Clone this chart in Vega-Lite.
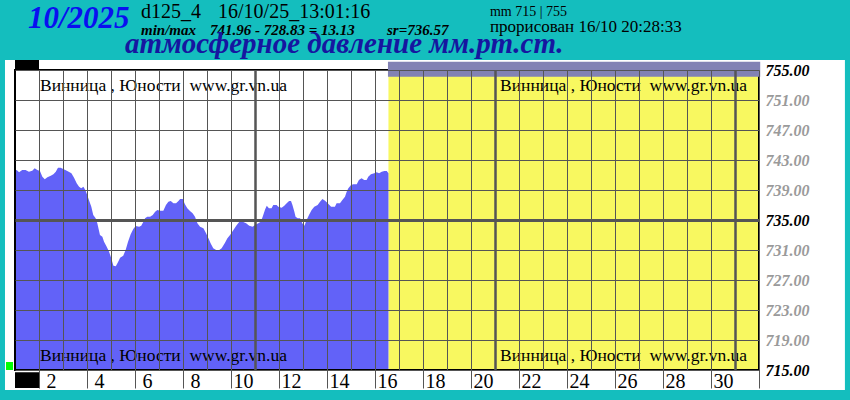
{
  "$schema": "https://vega.github.io/schema/vega-lite/v6.json",
  "width": 744,
  "height": 300,
  "autosize": {"type": "none"},
  "padding": {"left": 15, "top": 70, "right": 91, "bottom": 30},
  "background": "#14BEBE",
  "config": {"view": {"stroke": null}, "font": "Liberation Serif"},
  "datasets": {
    "p": [
      {"day": 1.00, "mmHg": 741.6}, {"day": 1.07, "mmHg": 741.67}, {"day": 1.17, "mmHg": 741.36}, {"day": 1.30, "mmHg": 741.67},
      {"day": 1.44, "mmHg": 741.67}, {"day": 1.58, "mmHg": 741.44}, {"day": 1.72, "mmHg": 741.58}, {"day": 1.82, "mmHg": 741.89},
      {"day": 1.93, "mmHg": 741.67}, {"day": 2.04, "mmHg": 741.53}, {"day": 2.14, "mmHg": 740.78}, {"day": 2.24, "mmHg": 740.42},
      {"day": 2.35, "mmHg": 740.69}, {"day": 2.49, "mmHg": 740.91}, {"day": 2.60, "mmHg": 741.09}, {"day": 2.70, "mmHg": 741.44},
      {"day": 2.79, "mmHg": 741.96}, {"day": 2.90, "mmHg": 741.96}, {"day": 3.01, "mmHg": 741.8}, {"day": 3.18, "mmHg": 741.53},
      {"day": 3.35, "mmHg": 741.22}, {"day": 3.46, "mmHg": 740.64}, {"day": 3.57, "mmHg": 739.89}, {"day": 3.67, "mmHg": 739.44},
      {"day": 3.76, "mmHg": 739.22}, {"day": 3.85, "mmHg": 739.44}, {"day": 3.93, "mmHg": 739.0}, {"day": 4.01, "mmHg": 738.33},
      {"day": 4.08, "mmHg": 737.67}, {"day": 4.18, "mmHg": 736.78}, {"day": 4.26, "mmHg": 735.67}, {"day": 4.36, "mmHg": 735.22},
      {"day": 4.43, "mmHg": 734.56}, {"day": 4.54, "mmHg": 733.0}, {"day": 4.64, "mmHg": 732.78}, {"day": 4.71, "mmHg": 732.11},
      {"day": 4.82, "mmHg": 731.44}, {"day": 4.92, "mmHg": 730.78}, {"day": 5.01, "mmHg": 729.89}, {"day": 5.10, "mmHg": 728.9},
      {"day": 5.20, "mmHg": 728.83}, {"day": 5.29, "mmHg": 729.36}, {"day": 5.38, "mmHg": 729.98}, {"day": 5.51, "mmHg": 730.24},
      {"day": 5.61, "mmHg": 731.0}, {"day": 5.71, "mmHg": 732.11}, {"day": 5.82, "mmHg": 733.09}, {"day": 5.93, "mmHg": 733.8},
      {"day": 6.03, "mmHg": 734.2}, {"day": 6.17, "mmHg": 734.11}, {"day": 6.26, "mmHg": 734.24}, {"day": 6.35, "mmHg": 734.78},
      {"day": 6.42, "mmHg": 735.22}, {"day": 6.51, "mmHg": 735.44}, {"day": 6.63, "mmHg": 735.44}, {"day": 6.74, "mmHg": 735.67},
      {"day": 6.84, "mmHg": 736.11}, {"day": 6.93, "mmHg": 736.33}, {"day": 7.04, "mmHg": 736.24}, {"day": 7.18, "mmHg": 736.24},
      {"day": 7.29, "mmHg": 737.0}, {"day": 7.39, "mmHg": 737.44}, {"day": 7.49, "mmHg": 737.53}, {"day": 7.60, "mmHg": 737.22},
      {"day": 7.71, "mmHg": 737.22}, {"day": 7.81, "mmHg": 737.53}, {"day": 7.88, "mmHg": 737.8}, {"day": 7.99, "mmHg": 737.8},
      {"day": 8.08, "mmHg": 737.09}, {"day": 8.18, "mmHg": 736.56}, {"day": 8.29, "mmHg": 736.2}, {"day": 8.40, "mmHg": 735.89},
      {"day": 8.50, "mmHg": 735.44}, {"day": 8.60, "mmHg": 734.56}, {"day": 8.71, "mmHg": 734.11}, {"day": 8.85, "mmHg": 733.89},
      {"day": 8.96, "mmHg": 733.22}, {"day": 9.06, "mmHg": 732.56}, {"day": 9.15, "mmHg": 731.89}, {"day": 9.26, "mmHg": 731.22},
      {"day": 9.38, "mmHg": 731.0}, {"day": 9.51, "mmHg": 731.0}, {"day": 9.61, "mmHg": 731.22}, {"day": 9.75, "mmHg": 731.98},
      {"day": 9.85, "mmHg": 732.56}, {"day": 9.96, "mmHg": 733.0}, {"day": 10.10, "mmHg": 733.67}, {"day": 10.24, "mmHg": 734.33},
      {"day": 10.35, "mmHg": 734.78}, {"day": 10.49, "mmHg": 734.78}, {"day": 10.63, "mmHg": 734.56}, {"day": 10.76, "mmHg": 734.24},
      {"day": 10.90, "mmHg": 734.11}, {"day": 11.00, "mmHg": 734.33}, {"day": 11.14, "mmHg": 734.56}, {"day": 11.24, "mmHg": 734.78},
      {"day": 11.32, "mmHg": 735.44}, {"day": 11.42, "mmHg": 736.4}, {"day": 11.49, "mmHg": 736.91}, {"day": 11.58, "mmHg": 736.56},
      {"day": 11.69, "mmHg": 736.56}, {"day": 11.76, "mmHg": 737.0}, {"day": 11.90, "mmHg": 737.0}, {"day": 11.97, "mmHg": 736.78},
      {"day": 12.11, "mmHg": 736.64}, {"day": 12.22, "mmHg": 736.91}, {"day": 12.32, "mmHg": 737.22}, {"day": 12.42, "mmHg": 737.53},
      {"day": 12.50, "mmHg": 737.53}, {"day": 12.56, "mmHg": 737.0}, {"day": 12.64, "mmHg": 736.11}, {"day": 12.69, "mmHg": 735.44},
      {"day": 12.78, "mmHg": 735.22}, {"day": 12.88, "mmHg": 735.22}, {"day": 12.97, "mmHg": 734.56}, {"day": 13.06, "mmHg": 734.24},
      {"day": 13.15, "mmHg": 735.0}, {"day": 13.25, "mmHg": 735.67}, {"day": 13.36, "mmHg": 736.33}, {"day": 13.47, "mmHg": 736.78},
      {"day": 13.61, "mmHg": 737.0}, {"day": 13.71, "mmHg": 737.44}, {"day": 13.81, "mmHg": 737.8}, {"day": 13.92, "mmHg": 737.58},
      {"day": 14.03, "mmHg": 737.22}, {"day": 14.17, "mmHg": 736.78}, {"day": 14.33, "mmHg": 736.78}, {"day": 14.40, "mmHg": 737.22},
      {"day": 14.54, "mmHg": 737.22}, {"day": 14.64, "mmHg": 737.67}, {"day": 14.75, "mmHg": 738.11}, {"day": 14.82, "mmHg": 738.78},
      {"day": 14.89, "mmHg": 739.22}, {"day": 15.00, "mmHg": 739.67}, {"day": 15.10, "mmHg": 739.76}, {"day": 15.24, "mmHg": 739.76},
      {"day": 15.33, "mmHg": 740.33}, {"day": 15.44, "mmHg": 740.56}, {"day": 15.55, "mmHg": 740.33}, {"day": 15.65, "mmHg": 740.33},
      {"day": 15.72, "mmHg": 740.78}, {"day": 15.83, "mmHg": 741.09}, {"day": 15.97, "mmHg": 741.22}, {"day": 16.07, "mmHg": 741.36},
      {"day": 16.17, "mmHg": 741.22}, {"day": 16.28, "mmHg": 741.44}, {"day": 16.39, "mmHg": 741.53}, {"day": 16.49, "mmHg": 741.53},
      {"day": 16.56, "mmHg": 741.22}
    ]
  },
  "layer": [
    {
      "data": {"values": [{}]},
      "mark": {"type": "rect", "color": "#ffffff"},
      "encoding": {
        "x": {"datum": 0.583, "type": "quantitative", "scale": {"domain": [1, 32], "nice": false, "zero": false}},
        "x2": {"datum": 35.58},
        "y": {"datum": 756.33, "type": "quantitative", "scale": {"domain": [715, 755], "nice": false, "zero": false}},
        "y2": {"datum": 712.33}
      }
    },
    {
      "data": {"values": [{}]},
      "mark": {"type": "rect", "color": "#F8F860"},
      "encoding": {
        "x": {"datum": 16.56, "type": "quantitative", "scale": {"domain": [1, 32], "nice": false, "zero": false}},
        "x2": {"datum": 32},
        "y": {"datum": 755, "type": "quantitative", "scale": {"domain": [715, 755], "nice": false, "zero": false}},
        "y2": {"datum": 715}
      }
    },
    {
      "data": {"name": "p"},
      "mark": {"type": "area", "color": "#6262F8", "interpolate": "linear", "opacity": 1},
      "encoding": {
        "x": {
          "field": "day", "type": "quantitative",
          "scale": {"domain": [1, 32], "nice": false, "zero": false},
          "axis": {
            "orient": "bottom", "title": null, "domain": false, "zindex": 2, "tickCount": 100, "format": "d",
            "values": [2,3,4,5,6,7,8,9,10,11,12,13,14,15,16,17,18,19,20,21,22,23,24,25,26,27,28,29,30,31,32],
            "grid": true, "gridColor": "#555555", "gridOpacity": 1,
            "gridWidth": {"condition": {"test": "datum.value == 11 || datum.value == 21 || datum.value == 31", "value": 2.5}, "value": 1},
            "ticks": true, "tickSize": 18, "tickColor": "#555555", "tickWidth": 1,
            "tickOpacity": {"condition": {"test": "datum.value % 2 == 1", "value": 0}, "value": 1},
            "labelExpr": "(datum.value % 2 == 0 && datum.value < 31) ? datum.label : ''",
            "labelFont": "Liberation Serif", "labelFontSize": 20, "labelColor": "#000000",
            "labelAlign": "center", "labelOffset": 12, "labelPadding": -17, "labelBaseline": "top",
            "labelOverlap": false, "labelFlush": false
          }
        },
        "y": {
          "field": "mmHg", "type": "quantitative",
          "scale": {"domain": [715, 755], "nice": false, "zero": false},
          "axis": {
            "orient": "right", "title": null, "domain": false, "zindex": 2, "tickCount": 100,
            "values": [715, 719, 723, 727, 731, 735, 739, 743, 747, 751, 755],
            "grid": true, "gridColor": "#555555", "gridOpacity": 1,
            "gridWidth": {"condition": {"test": "datum.value == 735", "value": 3}, "value": 1},
            "ticks": false, "format": ".2f",
            "labelFont": "Liberation Serif", "labelFontSize": 16, "labelFontStyle": "italic", "labelFontWeight": "bold",
            "labelColor": {"condition": {"test": "datum.value == 715 || datum.value == 735 || datum.value == 755", "value": "#000000"}, "value": "#9a9a9a"},
            "labelPadding": 6, "labelBaseline": "middle", "labelOverlap": false, "labelFlush": false
          }
        },
        "y2": {"datum": 715}
      }
    },
    {
      "data": {"values": [{}]},
      "mark": {"type": "rect", "fill": null, "fillOpacity": 0, "stroke": "#000000", "strokeWidth": 2, "zindex": 3},
      "encoding": {
        "x": {"datum": 1, "type": "quantitative", "scale": {"domain": [1, 32], "nice": false, "zero": false}},
        "x2": {"datum": 32},
        "y": {"datum": 755, "type": "quantitative", "scale": {"domain": [715, 755], "nice": false, "zero": false}},
        "y2": {"datum": 715}
      }
    },
    {
      "data": {"values": [{}]},
      "mark": {"type": "rect", "color": "#8282B4", "zindex": 4},
      "encoding": {
        "x": {"datum": 16.54, "type": "quantitative", "scale": {"domain": [1, 32], "nice": false, "zero": false}},
        "x2": {"datum": 32.05},
        "y": {"datum": 756.1, "type": "quantitative", "scale": {"domain": [715, 755], "nice": false, "zero": false}},
        "y2": {"datum": 754.1}
      }
    },
    {
      "data": {"values": [{}]},
      "mark": {"type": "rect", "color": "#000000"},
      "encoding": {
        "x": {"datum": 1, "type": "quantitative", "scale": {"domain": [1, 32], "nice": false, "zero": false}},
        "x2": {"datum": 2},
        "y": {"datum": 756.33, "type": "quantitative", "scale": {"domain": [715, 755], "nice": false, "zero": false}},
        "y2": {"datum": 755.1}
      }
    },
    {
      "data": {"values": [{}]},
      "mark": {"type": "rect", "color": "#000000", "zindex": 3},
      "encoding": {
        "x": {"datum": 1, "type": "quantitative", "scale": {"domain": [1, 32], "nice": false, "zero": false}},
        "x2": {"datum": 2},
        "y": {"datum": 714.7, "type": "quantitative", "scale": {"domain": [715, 755], "nice": false, "zero": false}},
        "y2": {"datum": 712.6}
      }
    },
    {
      "data": {"values": [{}]},
      "mark": {"type": "rect", "color": "#00FF00"},
      "encoding": {
        "x": {"datum": 0.625, "type": "quantitative", "scale": {"domain": [1, 32], "nice": false, "zero": false}},
        "x2": {"datum": 0.917},
        "y": {"datum": 716.07, "type": "quantitative", "scale": {"domain": [715, 755], "nice": false, "zero": false}},
        "y2": {"datum": 715.0}
      }
    },
    {
      "data": {"values": [{}]},
      "mark": {"type": "text", "text": "Винница , Юности\u00a0 www.gr.vn.ua", "align": "left", "baseline": "alphabetic", "font": "Liberation Serif", "fontSize": 17.5, "color": "#000000", "zindex": 3},
      "encoding": {
        "x": {"datum": 2.04, "type": "quantitative", "scale": {"domain": [1, 32], "nice": false, "zero": false}},
        "y": {"datum": 752.2, "type": "quantitative", "scale": {"domain": [715, 755], "nice": false, "zero": false}}
      }
    },
    {
      "data": {"values": [{}]},
      "mark": {"type": "text", "text": "Винница , Юности\u00a0 www.gr.vn.ua", "align": "left", "baseline": "alphabetic", "font": "Liberation Serif", "fontSize": 17.5, "color": "#000000", "zindex": 3},
      "encoding": {
        "x": {"datum": 21.21, "type": "quantitative", "scale": {"domain": [1, 32], "nice": false, "zero": false}},
        "y": {"datum": 752.2, "type": "quantitative", "scale": {"domain": [715, 755], "nice": false, "zero": false}}
      }
    },
    {
      "data": {"values": [{}]},
      "mark": {"type": "text", "text": "Винница , Юности\u00a0 www.gr.vn.ua", "align": "left", "baseline": "alphabetic", "font": "Liberation Serif", "fontSize": 17.5, "color": "#000000", "zindex": 3},
      "encoding": {
        "x": {"datum": 2.04, "type": "quantitative", "scale": {"domain": [1, 32], "nice": false, "zero": false}},
        "y": {"datum": 716.2, "type": "quantitative", "scale": {"domain": [715, 755], "nice": false, "zero": false}}
      }
    },
    {
      "data": {"values": [{}]},
      "mark": {"type": "text", "text": "Винница , Юности\u00a0 www.gr.vn.ua", "align": "left", "baseline": "alphabetic", "font": "Liberation Serif", "fontSize": 17.5, "color": "#000000", "zindex": 3},
      "encoding": {
        "x": {"datum": 21.21, "type": "quantitative", "scale": {"domain": [1, 32], "nice": false, "zero": false}},
        "y": {"datum": 716.2, "type": "quantitative", "scale": {"domain": [715, 755], "nice": false, "zero": false}}
      }
    },
    {
      "data": {"values": [{}]},
      "mark": {"type": "text", "text": "10/2025", "align": "left", "baseline": "alphabetic", "font": "Liberation Serif", "fontSize": 31, "fontStyle": "italic", "fontWeight": "bold", "color": "#0A10F0"},
      "encoding": {
        "x": {"datum": 1.54, "type": "quantitative", "scale": {"domain": [1, 32], "nice": false, "zero": false}},
        "y": {"datum": 760.6, "type": "quantitative", "scale": {"domain": [715, 755], "nice": false, "zero": false}}
      }
    },
    {
      "data": {"values": [{}]},
      "mark": {"type": "text", "text": "d125_4", "align": "left", "baseline": "alphabetic", "font": "Liberation Serif", "fontSize": 20, "color": "#000000"},
      "encoding": {
        "x": {"datum": 6.25, "type": "quantitative", "scale": {"domain": [1, 32], "nice": false, "zero": false}},
        "y": {"datum": 761.87, "type": "quantitative", "scale": {"domain": [715, 755], "nice": false, "zero": false}}
      }
    },
    {
      "data": {"values": [{}]},
      "mark": {"type": "text", "text": "16/10/25_13:01:16", "align": "left", "baseline": "alphabetic", "font": "Liberation Serif", "fontSize": 20, "color": "#000000"},
      "encoding": {
        "x": {"datum": 9.46, "type": "quantitative", "scale": {"domain": [1, 32], "nice": false, "zero": false}},
        "y": {"datum": 761.87, "type": "quantitative", "scale": {"domain": [715, 755], "nice": false, "zero": false}}
      }
    },
    {
      "data": {"values": [{}]},
      "mark": {"type": "text", "text": "min/max", "align": "left", "baseline": "alphabetic", "font": "Liberation Serif", "fontSize": 15, "fontStyle": "italic", "fontWeight": "bold", "color": "#000000"},
      "encoding": {
        "x": {"datum": 6.25, "type": "quantitative", "scale": {"domain": [1, 32], "nice": false, "zero": false}},
        "y": {"datum": 759.67, "type": "quantitative", "scale": {"domain": [715, 755], "nice": false, "zero": false}}
      }
    },
    {
      "data": {"values": [{}]},
      "mark": {"type": "text", "text": "741.96 - 728.83 = 13.13", "align": "left", "baseline": "alphabetic", "font": "Liberation Serif", "fontSize": 15, "fontStyle": "italic", "fontWeight": "bold", "color": "#000000"},
      "encoding": {
        "x": {"datum": 9.125, "type": "quantitative", "scale": {"domain": [1, 32], "nice": false, "zero": false}},
        "y": {"datum": 759.67, "type": "quantitative", "scale": {"domain": [715, 755], "nice": false, "zero": false}}
      }
    },
    {
      "data": {"values": [{}]},
      "mark": {"type": "text", "text": "sr=736.57", "align": "left", "baseline": "alphabetic", "font": "Liberation Serif", "fontSize": 15, "fontStyle": "italic", "fontWeight": "bold", "color": "#000000"},
      "encoding": {
        "x": {"datum": 16.5, "type": "quantitative", "scale": {"domain": [1, 32], "nice": false, "zero": false}},
        "y": {"datum": 759.67, "type": "quantitative", "scale": {"domain": [715, 755], "nice": false, "zero": false}}
      }
    },
    {
      "data": {"values": [{}]},
      "mark": {"type": "text", "text": "mm 715 | 755", "align": "left", "baseline": "alphabetic", "font": "Liberation Serif", "fontSize": 14, "color": "#000000"},
      "encoding": {
        "x": {"datum": 20.79, "type": "quantitative", "scale": {"domain": [1, 32], "nice": false, "zero": false}},
        "y": {"datum": 762.2, "type": "quantitative", "scale": {"domain": [715, 755], "nice": false, "zero": false}}
      }
    },
    {
      "data": {"values": [{}]},
      "mark": {"type": "text", "text": "прорисован 16/10 20:28:33", "align": "left", "baseline": "alphabetic", "font": "Liberation Serif", "fontSize": 17, "color": "#000000"},
      "encoding": {
        "x": {"datum": 20.79, "type": "quantitative", "scale": {"domain": [1, 32], "nice": false, "zero": false}},
        "y": {"datum": 760.1, "type": "quantitative", "scale": {"domain": [715, 755], "nice": false, "zero": false}}
      }
    },
    {
      "data": {"values": [{}]},
      "mark": {"type": "text", "text": "атмосферное давление мм.рт.ст.", "align": "left", "baseline": "alphabetic", "font": "Liberation Serif", "fontSize": 29, "fontStyle": "italic", "fontWeight": "bold", "color": "#1616A0"},
      "encoding": {
        "x": {"datum": 5.58, "type": "quantitative", "scale": {"domain": [1, 32], "nice": false, "zero": false}},
        "y": {"datum": 757.33, "type": "quantitative", "scale": {"domain": [715, 755], "nice": false, "zero": false}}
      }
    }
  ]
}
